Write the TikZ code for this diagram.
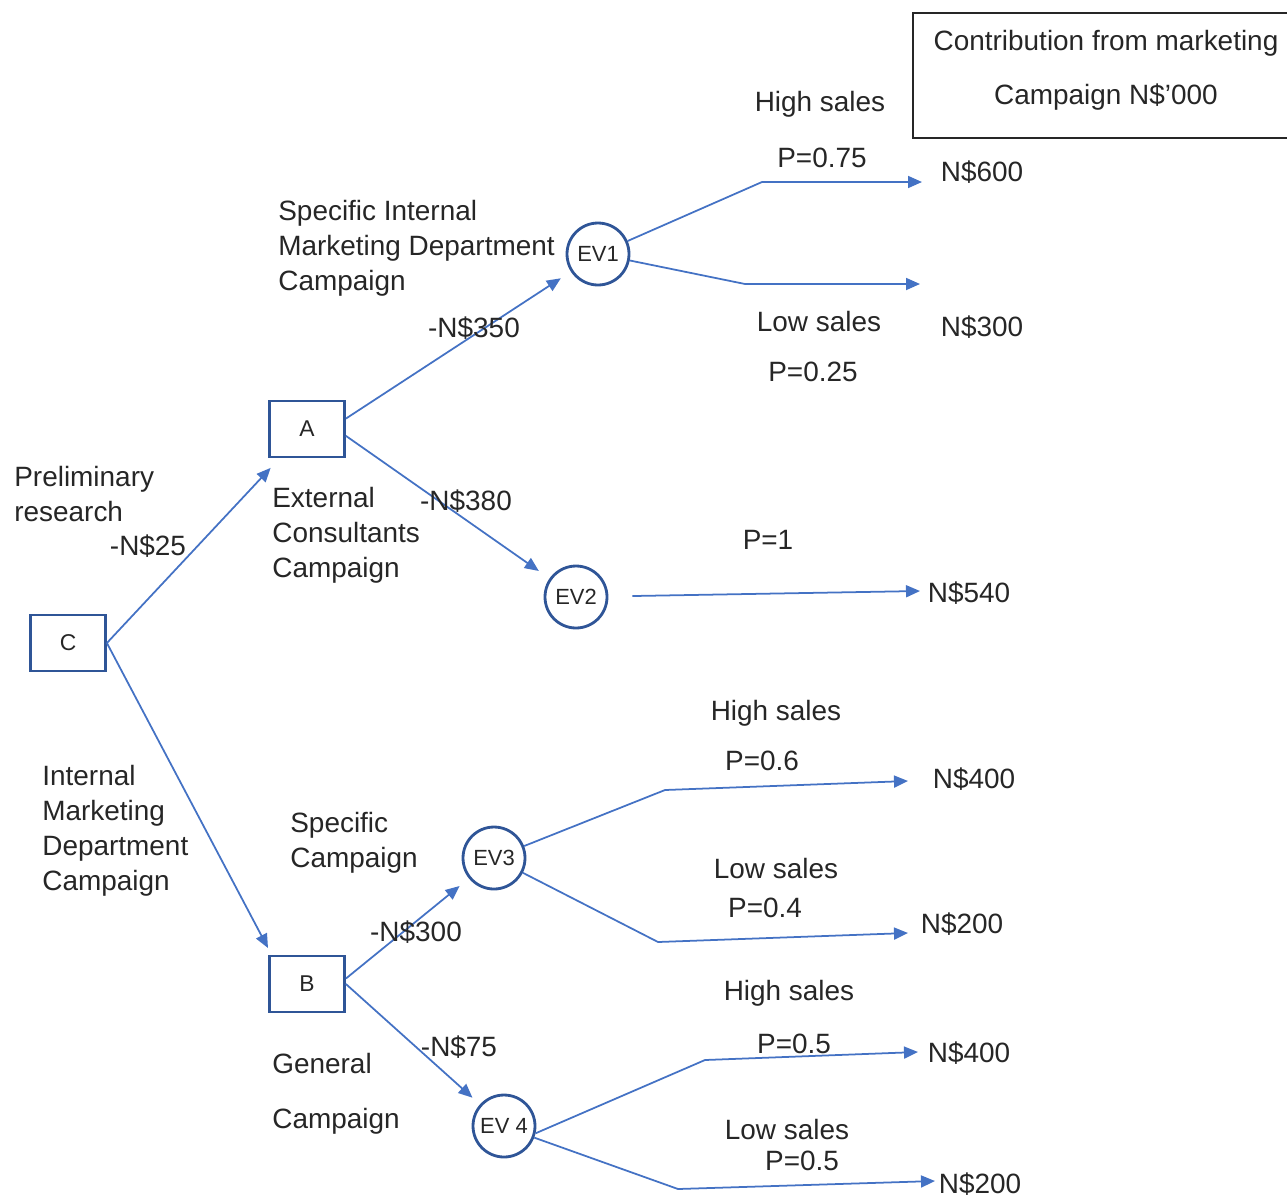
\documentclass[tikz,border=0pt]{standalone}
\usepackage{fontspec}
\setmainfont{Liberation Sans}
\usetikzlibrary{arrows.meta}
\definecolor{linkblue}{HTML}{4472C4}
\definecolor{nodeblue}{HTML}{2F5597}
\definecolor{inkgray}{HTML}{262626}

\begin{document}
\begin{tikzpicture}[
		x=0.02cm, y=-0.02cm,
		every node/.style={text=inkgray, font=\fontsize{15.9}{19.9}\selectfont},
		decbox/.style={draw=nodeblue, line width=1.6pt, minimum width=1.5cm, minimum height=1.12cm, font=\fontsize{13}{15}\selectfont},
		chance/.style={circle, draw=nodeblue, line width=1.6pt, minimum size=1.24cm, inner sep=0pt, font=\fontsize{12.5}{14}\selectfont},
		txt/.style={inner sep=0pt},
		para/.style={inner sep=0pt, anchor=west, align=left},
		legend/.style={draw=inkgray, line width=0.9pt, minimum width=7.72cm, minimum height=2.5cm},
		arrow/.style={-{Triangle[length=0.28cm,width=0.24cm]}, draw=linkblue, line width=1pt, line join=round}
		]
		
		\useasboundingbox (0,0) rectangle (1287,1197);
		
		% decision and chance nodes
		\node[decbox] (C) at (68,643) {C};
		\node[decbox] (A) at (307,429) {A};
		\node[decbox] (B) at (307,984) {B};
		\node[chance] (EV1) at (598,254) {EV1};
		\node[chance] (EV2) at (576,597) {EV2};
		\node[chance] (EV3) at (494,858) {EV3};
		\node[chance] (EV4) at (504,1126) {EV 4};
		
		\node[legend] (legend) at (1106,75.5) {};
		\node[txt] (legend1) at (1106,43) {Contribution from marketing};
		\node[txt] (legend2) at (1106,97) {Campaign N\$’000};
		
		% bends and ends of the branches
		\coordinate (tB) at (268,948);
		\coordinate (k1) at (762,182); \coordinate (e1) at (922,182);
		\coordinate (k2) at (745,284); \coordinate (e2) at (920,284);
		\coordinate (e3) at (920,591);
		\coordinate (k4) at (665,790); \coordinate (e4) at (908,781);
		\coordinate (k5) at (658,942); \coordinate (e5) at (908,933);
		\coordinate (k6) at (705,1060); \coordinate (e6) at (918,1052);
		\coordinate (k7) at (678,1189); \coordinate (e7) at (935,1181);
		
		\draw[arrow, shorten >=0.26cm] (C.east) -- (A);
		\draw[arrow] (C.east) -- (tB);
		\draw[arrow, shorten >=0.24cm] (A.15) -- (EV1);
		\draw[arrow, shorten >=0.26cm] (A.-10) -- (EV2);
		\draw[arrow, shorten >=0.24cm] (B.8) -- (EV3);
		\draw[arrow, shorten >=0.2cm] (B.east) -- (EV4);
		
		\draw[arrow] (EV1) -- (k1) -- (e1);
		\draw[arrow] (EV1) -- (k2) -- (e2);
		\draw[arrow, shorten <=0.48cm] (EV2) -- (e3);
		\draw[arrow] (EV3) -- (k4) -- (e4);
		\draw[arrow] (EV3) -- (k5) -- (e5);
		\draw[arrow] (EV4.-13) -- (k6) -- (e6);
		\draw[arrow] (EV4.-21) -- (k7) -- (e7);
		
		% labels
		\node[para] (prelim) at (14,494) {Preliminary\\research};
		\node[txt] (c25) at (148,546) {-N\$25};
		\node[para] (intmkt) at (42,831) {Internal\\Marketing\\Department\\Campaign};
		
		\node[para] (specint) at (278,248) {Specific Internal\\Marketing Department\\Campaign};
		\node[txt] (c350) at (474,328) {-N\$350};
		\node[para] (extcons) at (272,535) {External\\Consultants\\Campaign};
		\node[txt] (c380) at (466,501) {-N\$380};
		\node[para] (speccamp) at (290,843) {Specific\\Campaign};
		\node[txt] (c300) at (416,932) {-N\$300};
		\node[para] (general) at (272,1094) {General\\[0.4cm]Campaign};
		\node[txt] (c75) at (459,1047) {-N\$75};
		
		\node[txt] (hs1) at (820,104) {High sales};
		\node[txt] (p1) at (822,158) {P=0.75};
		\node[txt] (v1) at (982,172) {N\$600};
		\node[txt] (ls1) at (819,322) {Low sales};
		\node[txt] (p2) at (813,372) {P=0.25};
		\node[txt] (v2) at (982,327) {N\$300};
		
		\node[txt] (p3) at (768,540) {P=1};
		\node[txt] (v3) at (969,593) {N\$540};
		
		\node[txt] (hs2) at (776,713) {High sales};
		\node[txt] (p4) at (762,761) {P=0.6};
		\node[txt] (v4) at (974,779) {N\$400};
		\node[txt] (ls2) at (776,868) {Low sales};
		\node[txt] (p5) at (765,908) {P=0.4};
		\node[txt] (v5) at (962,924) {N\$200};
		
		\node[txt] (hs3) at (789,993) {High sales};
		\node[txt] (p6) at (794,1044) {P=0.5};
		\node[txt] (v6) at (969,1053) {N\$400};
		\node[txt] (ls3) at (787,1129) {Low sales};
		\node[txt] (p7) at (802,1161) {P=0.5};
		\node[txt] (v7) at (980,1184) {N\$200};
		
	\end{tikzpicture}
\end{document}
